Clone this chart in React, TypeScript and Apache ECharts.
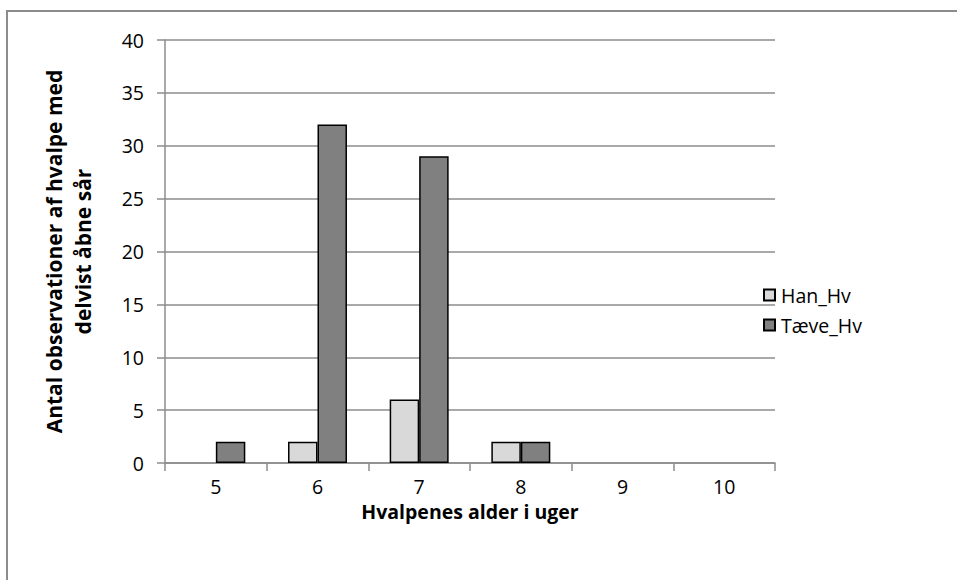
import React, { useEffect, useRef } from "react";
import * as echarts from "echarts";

const categories = ["5", "6", "7", "8", "9", "10"];
const hanHv = [0, 2, 6, 2, 0, 0];
const taeveHv = [2, 32, 29, 2, 0, 0];
const seriesNames = ["Han_Hv", "Tæve_Hv"];

const FONT = "'Open Sans', 'Noto Sans', sans-serif";

// zero-height bars are not drawn in the reference
const toBars = (arr: number[]) => arr.map((v) => (v === 0 ? "-" : v));

export default function App() {
  const ref = useRef<HTMLDivElement>(null);
  useEffect(() => {
    if (!ref.current) return;
    const chart = echarts.init(ref.current, null, { renderer: "svg" });
    chart.setOption({
      animation: false,
      backgroundColor: "#ffffff",
      textStyle: { fontFamily: FONT },
      graphic: [
        {
          type: "rect",
          shape: { x: 7, y: 11, width: 1000, height: 700 },
          style: { fill: "none", stroke: "#8c8c8c", lineWidth: 2 },
          silent: true,
        },
      ],
      grid: { left: 165, top: 40, right: 182, bottom: 117 },
      legend: {
        orient: "vertical",
        left: 758,
        top: 280,
        itemWidth: 11,
        itemHeight: 11,
        itemGap: 10,
        icon: "rect",
        textStyle: { fontSize: 19.5, color: "#000", fontFamily: FONT, padding: [0, 0, 0, 1] },
        data: seriesNames,
      },
      xAxis: {
        type: "category",
        data: categories,
        name: "Hvalpenes alder i uger",
        nameLocation: "middle",
        nameGap: 38,
        nameTextStyle: { fontSize: 19.5, fontWeight: "bold", color: "#000", fontFamily: FONT },
        axisLine: { lineStyle: { color: "#8c8c8c", width: 1.5 } },
        axisTick: { show: true, length: 8, lineStyle: { color: "#8c8c8c", width: 1.5 } },
        axisLabel: { fontSize: 19.5, color: "#000", margin: 13, fontFamily: FONT },
      },
      yAxis: {
        type: "value",
        min: 0,
        max: 40,
        interval: 5,
        name: "Antal observationer af hvalpe med\ndelvist åbne sår",
        nameLocation: "middle",
        nameGap: 68,
        nameTextStyle: { fontSize: 21, fontWeight: "bold", color: "#000", lineHeight: 29, fontFamily: FONT },
        axisLine: { show: true, lineStyle: { color: "#8c8c8c", width: 1.5 } },
        axisTick: { show: true, length: 8, lineStyle: { color: "#8c8c8c", width: 1.5 } },
        axisLabel: { fontSize: 19.5, color: "#000", margin: 21, fontFamily: FONT },
        splitLine: { lineStyle: { color: "#8c8c8c", width: 1.5 } },
      },
      series: [
        {
          name: seriesNames[0],
          type: "bar",
          data: toBars(hanHv),
          barGap: "0%",
          barCategoryGap: "42%",
          itemStyle: { color: "#d9d9d9", borderColor: "#000", borderWidth: 1.5 },
        },
        {
          name: seriesNames[1],
          type: "bar",
          data: toBars(taeveHv),
          barGap: "0%",
          barCategoryGap: "42%",
          itemStyle: { color: "#808080", borderColor: "#000", borderWidth: 1.5 },
        },
      ],
    });
    return () => chart.dispose();
  }, []);
  return <div ref={ref} style={{ width: 957, height: 580, position: "absolute", left: 0, top: 0 }} />;
}
